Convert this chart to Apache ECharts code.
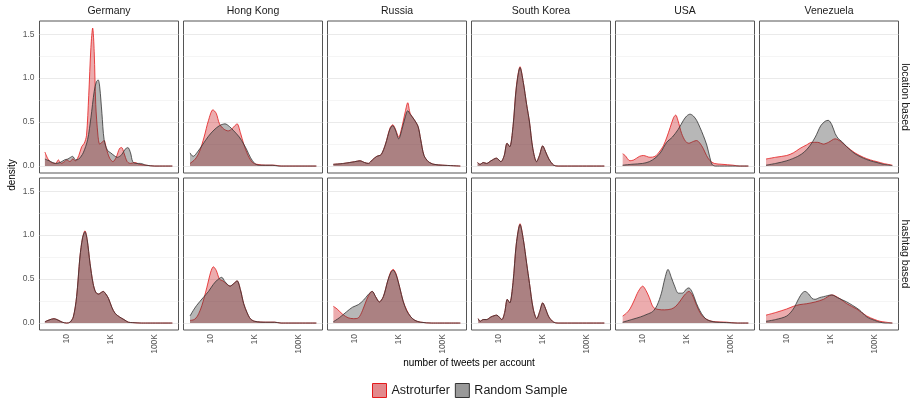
<!DOCTYPE html>
<html><head><meta charset="utf-8">
<script src="https://cdn.jsdelivr.net/npm/echarts@6/dist/echarts.min.js"></script>
<style>html,body{margin:0;padding:0;background:#fff}#c{width:911px;height:402px}</style>
</head><body><div id="c"></div><script>
// ---- categories & ticks ----
const countries = ['Germany', 'Hong Kong', 'Russia', 'South Korea', 'USA', 'Venezuela'];
const rowLabels = ['location based', 'hashtag based'];
const seriesNames = ['Astroturfer', 'Random Sample'];
const xTickValues = [1, 3, 5];            // log10(number of tweets)
const xTickLabels = ['10', '1K', '100K'];
const yTickValues = [0, 0.5, 1, 1.5];
const yGridMajor = [0, 0.5, 1, 1.5];
const yGridMinor = [0.25, 0.75, 1.25];
const xTitle = 'number of tweets per account';
const yTitle = 'density';

// ---- density values: [log10(tweets), density] ----
// location based
const germanyLocAstro = [[0.01,0.16],[0.15,0.08],[0.3,0.04],[0.5,0.03],[0.62,0.07],[0.75,0.03],[0.9,0.05],[1.0,0.07],[1.15,0.05],[1.27,0.08],[1.4,0.06],[1.55,0.12],[1.68,0.22],[1.8,0.26],[1.9,0.35],[2.0,0.8],[2.1,1.35],[2.18,1.57],[2.25,1.3],[2.32,0.7],[2.42,0.35],[2.5,0.25],[2.6,0.27],[2.7,0.29],[2.8,0.2],[2.95,0.09],[3.1,0.05],[3.25,0.1],[3.4,0.2],[3.5,0.21],[3.6,0.15],[3.75,0.05],[3.9,0.03],[4.1,0.04],[4.3,0.02],[4.6,0.01],[5.0,0],[5.8,0]];
const germanyLocRandom = [[0.01,0.08],[0.2,0.06],[0.5,0.03],[0.7,0.04],[0.9,0.07],[1.05,0.08],[1.27,0.11],[1.4,0.07],[1.55,0.08],[1.75,0.15],[1.95,0.3],[2.1,0.55],[2.25,0.85],[2.35,0.96],[2.43,0.98],[2.5,0.9],[2.6,0.6],[2.7,0.3],[2.85,0.18],[3.0,0.15],[3.15,0.12],[3.3,0.1],[3.5,0.13],[3.65,0.19],[3.78,0.21],[3.9,0.15],[4.0,0.05],[4.15,0.03],[4.35,0.03],[4.6,0.01],[5.0,0],[5.8,0]];
const hongkongLocAstro = [[0.06,0.03],[0.3,0.08],[0.5,0.17],[0.7,0.33],[0.9,0.52],[1.1,0.64],[1.25,0.6],[1.4,0.48],[1.6,0.42],[1.8,0.4],[1.95,0.42],[2.1,0.46],[2.2,0.48],[2.35,0.38],[2.5,0.25],[2.7,0.12],[2.9,0.04],[3.1,0.02],[3.5,0.01],[3.9,0.01],[4.2,0],[5.8,0]];
const hongkongLocRandom = [[0.06,0.15],[0.2,0.11],[0.4,0.16],[0.65,0.25],[0.9,0.34],[1.15,0.41],[1.4,0.46],[1.65,0.48],[1.85,0.45],[2.05,0.4],[2.3,0.33],[2.5,0.25],[2.65,0.18],[2.8,0.1],[3.0,0.03],[3.2,0.01],[3.8,0.01],[4.1,0],[5.8,0]];
const russiaLocAstro = [[0.03,0.02],[0.5,0.03],[1.0,0.05],[1.24,0.06],[1.45,0.04],[1.62,0.03],[1.8,0.07],[2.0,0.11],[2.2,0.13],[2.4,0.25],[2.6,0.43],[2.73,0.47],[2.85,0.42],[3.0,0.33],[3.15,0.45],[3.3,0.62],[3.41,0.72],[3.52,0.6],[3.7,0.53],[3.88,0.45],[4.0,0.3],[4.15,0.12],[4.35,0.05],[4.6,0.02],[5.0,0.01],[5.8,0]];
const russiaLocRandom = [[0.03,0.02],[0.5,0.03],[1.0,0.05],[1.24,0.06],[1.45,0.04],[1.62,0.03],[1.8,0.07],[2.0,0.11],[2.2,0.13],[2.4,0.25],[2.6,0.42],[2.73,0.46],[2.85,0.41],[3.0,0.31],[3.15,0.42],[3.3,0.56],[3.41,0.63],[3.52,0.59],[3.7,0.53],[3.88,0.45],[4.0,0.3],[4.15,0.12],[4.35,0.05],[4.6,0.02],[5.0,0.01],[5.8,0]];
const koreaLocAstro = [[0.04,0.04],[0.15,0.02],[0.3,0.04],[0.45,0.03],[0.65,0.06],[0.9,0.09],[1.1,0.05],[1.25,0.12],[1.38,0.26],[1.5,0.22],[1.65,0.45],[1.8,0.9],[1.97,1.13],[2.12,0.95],[2.27,0.7],[2.4,0.5],[2.55,0.2],[2.72,0.05],[2.85,0.12],[3.0,0.23],[3.12,0.17],[3.28,0.08],[3.5,0.01],[3.7,0],[5.8,0]];
const koreaLocRandom = [[0.04,0.04],[0.15,0.02],[0.3,0.04],[0.45,0.03],[0.65,0.06],[0.9,0.09],[1.1,0.05],[1.25,0.12],[1.38,0.26],[1.5,0.22],[1.65,0.45],[1.8,0.89],[1.97,1.12],[2.12,0.95],[2.27,0.7],[2.4,0.5],[2.55,0.2],[2.72,0.05],[2.85,0.12],[3.0,0.23],[3.12,0.17],[3.28,0.08],[3.5,0.01],[3.7,0],[5.8,0]];
const usaLocAstro = [[0.09,0.14],[0.2,0.12],[0.42,0.06],[0.6,0.07],[0.85,0.11],[1.03,0.12],[1.33,0.1],[1.56,0.11],[1.75,0.16],[1.94,0.23],[2.1,0.33],[2.25,0.44],[2.4,0.55],[2.5,0.58],[2.6,0.52],[2.77,0.37],[2.95,0.28],[3.1,0.26],[3.3,0.28],[3.45,0.29],[3.6,0.26],[3.75,0.2],[3.9,0.12],[4.06,0.06],[4.25,0.03],[4.6,0.02],[5.1,0.01],[5.4,0],[5.8,0]];
const usaLocRandom = [[0.09,0.01],[0.5,0.02],[1.0,0.03],[1.3,0.05],[1.56,0.09],[1.8,0.15],[2.09,0.27],[2.35,0.33],[2.62,0.42],[2.85,0.52],[3.0,0.57],[3.15,0.59],[3.3,0.57],[3.45,0.52],[3.6,0.44],[3.75,0.35],[3.91,0.24],[4.05,0.1],[4.15,0.02],[4.3,0],[5.8,0]];
const venezuelaLocAstro = [[0.06,0.08],[0.5,0.1],[1.0,0.12],[1.3,0.15],[1.6,0.2],[1.9,0.24],[2.14,0.27],[2.4,0.27],[2.67,0.25],[2.9,0.27],[3.2,0.31],[3.45,0.28],[3.73,0.22],[4.1,0.15],[4.48,0.1],[4.8,0.07],[5.1,0.05],[5.39,0.03],[5.8,0.01]];
const venezuelaLocRandom = [[0.06,0.01],[0.5,0.03],[1.0,0.06],[1.5,0.11],[1.8,0.16],[2.05,0.23],[2.3,0.33],[2.55,0.46],[2.75,0.51],[2.89,0.52],[3.05,0.47],[3.2,0.37],[3.35,0.31],[3.5,0.28],[3.73,0.22],[4.1,0.14],[4.48,0.09],[4.8,0.06],[5.1,0.04],[5.39,0.02],[5.8,0.005]];
// hashtag based
const germanyTagAstro = [[0.01,0.015],[0.2,0.035],[0.42,0.05],[0.6,0.035],[0.8,0.01],[1.0,0],[1.15,0.01],[1.3,0.07],[1.45,0.3],[1.6,0.75],[1.72,0.97],[1.83,1.05],[1.93,0.95],[2.06,0.68],[2.2,0.45],[2.32,0.35],[2.45,0.33],[2.58,0.35],[2.66,0.36],[2.78,0.33],[2.9,0.28],[3.05,0.18],[3.2,0.11],[3.4,0.07],[3.6,0.04],[3.8,0.01],[4.0,0.005],[4.4,0],[5.8,0]];
const germanyTagRandom = [[0.01,0.015],[0.2,0.035],[0.42,0.05],[0.6,0.035],[0.8,0.01],[1.0,0],[1.15,0.01],[1.3,0.07],[1.45,0.3],[1.6,0.75],[1.72,0.97],[1.83,1.04],[1.93,0.95],[2.06,0.68],[2.2,0.45],[2.32,0.35],[2.45,0.33],[2.58,0.35],[2.66,0.36],[2.78,0.33],[2.9,0.28],[3.05,0.18],[3.2,0.11],[3.4,0.07],[3.6,0.04],[3.8,0.01],[4.0,0.005],[4.4,0],[5.8,0]];
const hongkongTagAstro = [[0.06,0.03],[0.25,0.04],[0.4,0.08],[0.6,0.2],[0.82,0.4],[1.0,0.58],[1.12,0.64],[1.25,0.6],[1.4,0.5],[1.55,0.48],[1.7,0.45],[1.88,0.42],[2.05,0.45],[2.2,0.48],[2.35,0.38],[2.5,0.22],[2.65,0.12],[2.8,0.05],[3.0,0.02],[3.5,0.01],[3.9,0.01],[4.2,0],[5.8,0]];
const hongkongTagRandom = [[0.06,0.08],[0.2,0.14],[0.36,0.2],[0.66,0.29],[0.9,0.36],[1.12,0.44],[1.3,0.49],[1.5,0.52],[1.65,0.47],[1.88,0.42],[2.05,0.45],[2.2,0.48],[2.35,0.38],[2.5,0.22],[2.65,0.12],[2.8,0.05],[3.0,0.02],[3.5,0.01],[3.9,0.01],[4.2,0],[5.8,0]];
const russiaTagAstro = [[0.03,0.19],[0.2,0.16],[0.45,0.1],[0.7,0.06],[0.95,0.05],[1.17,0.06],[1.35,0.14],[1.55,0.27],[1.72,0.35],[1.8,0.36],[1.95,0.3],[2.12,0.24],[2.3,0.3],[2.5,0.48],[2.65,0.59],[2.75,0.61],[2.88,0.56],[3.05,0.4],[3.2,0.25],[3.36,0.15],[3.55,0.07],[3.74,0.03],[4.0,0.01],[4.5,0],[5.8,0]];
const russiaTagRandom = [[0.03,0.015],[0.3,0.06],[0.64,0.13],[0.9,0.18],[1.17,0.21],[1.4,0.26],[1.6,0.32],[1.72,0.35],[1.8,0.36],[1.95,0.3],[2.12,0.24],[2.3,0.3],[2.5,0.48],[2.65,0.58],[2.75,0.6],[2.88,0.55],[3.05,0.4],[3.2,0.25],[3.36,0.14],[3.55,0.07],[3.74,0.03],[4.0,0.01],[4.5,0],[5.8,0]];
const koreaTagAstro = [[0.07,0.05],[0.15,0.02],[0.3,0.04],[0.45,0.04],[0.65,0.07],[0.91,0.09],[1.14,0.04],[1.27,0.12],[1.39,0.27],[1.5,0.23],[1.65,0.46],[1.8,0.9],[1.97,1.13],[2.12,0.95],[2.27,0.68],[2.4,0.45],[2.57,0.16],[2.73,0.05],[2.86,0.13],[3.0,0.23],[3.12,0.17],[3.28,0.07],[3.5,0.01],[3.7,0],[5.8,0]];
const koreaTagRandom = [[0.07,0.05],[0.15,0.02],[0.3,0.04],[0.45,0.04],[0.65,0.07],[0.91,0.09],[1.14,0.04],[1.27,0.12],[1.39,0.27],[1.5,0.23],[1.65,0.46],[1.8,0.9],[1.97,1.12],[2.12,0.95],[2.27,0.68],[2.4,0.45],[2.57,0.16],[2.73,0.05],[2.86,0.13],[3.0,0.23],[3.12,0.17],[3.28,0.07],[3.5,0.01],[3.7,0],[5.8,0]];
const usaTagAstro = [[0.09,0.08],[0.25,0.11],[0.42,0.16],[0.6,0.25],[0.8,0.36],[1.0,0.42],[1.15,0.37],[1.3,0.29],[1.48,0.18],[1.7,0.155],[2.0,0.15],[2.3,0.16],[2.5,0.19],[2.7,0.25],[2.9,0.32],[3.1,0.36],[3.25,0.32],[3.45,0.2],[3.6,0.12],[3.75,0.07],[4.0,0.03],[4.3,0.015],[4.8,0.01],[5.3,0],[5.8,0]];
const usaTagRandom = [[0.09,0.01],[0.5,0.04],[0.9,0.07],[1.2,0.1],[1.45,0.13],[1.65,0.2],[1.85,0.34],[2.0,0.5],[2.15,0.61],[2.3,0.52],[2.45,0.42],[2.62,0.34],[2.8,0.34],[3.0,0.39],[3.1,0.4],[3.25,0.35],[3.45,0.22],[3.6,0.14],[3.75,0.08],[3.91,0.04],[4.2,0.015],[4.8,0.005],[5.3,0],[5.8,0]];
const venezuelaTagAstro = [[0.06,0.09],[0.5,0.12],[1.0,0.16],[1.3,0.19],[1.6,0.21],[1.91,0.22],[2.3,0.24],[2.67,0.27],[3.05,0.32],[3.4,0.28],[3.73,0.22],[4.18,0.16],[4.64,0.08],[5.0,0.04],[5.24,0.02],[5.5,0.01],[5.8,0]];
const venezuelaTagRandom = [[0.06,0.02],[0.5,0.04],[1.0,0.08],[1.3,0.16],[1.55,0.28],[1.7,0.34],[1.83,0.36],[2.0,0.33],[2.15,0.28],[2.29,0.27],[2.5,0.29],[2.67,0.3],[3.05,0.32],[3.3,0.29],[3.73,0.24],[4.0,0.2],[4.3,0.15],[4.64,0.07],[5.0,0.03],[5.24,0.01],[5.5,0],[5.8,0]];

const panelData = [
  [[germanyLocAstro, germanyLocRandom], [hongkongLocAstro, hongkongLocRandom], [russiaLocAstro, russiaLocRandom],
   [koreaLocAstro, koreaLocRandom], [usaLocAstro, usaLocRandom], [venezuelaLocAstro, venezuelaLocRandom]],
  [[germanyTagAstro, germanyTagRandom], [hongkongTagAstro, hongkongTagRandom], [russiaTagAstro, russiaTagRandom],
   [koreaTagAstro, koreaTagRandom], [usaTagAstro, usaTagRandom], [venezuelaTagAstro, venezuelaTagRandom]]
];

// ---- layout & style ----
const FONT = '"Liberation Sans", Arial, Helvetica, sans-serif';
const panelLeft0 = 39.5, panelW = 139, panelGap = 5;
const rowTops = [21, 178], panelH = 152;
const xMin = -0.236, xMax = 6.08, yMin = -0.079, yMax = 1.65;
const astroLine = '#e41a1c', astroFill = 'rgba(200,20,25,0.5)';
const randLine = '#333333', randFill = 'rgba(51,51,51,0.5)';

const grids = [], xAxes = [], yAxes = [], series = [], graphics = [];
for (let r = 0; r < 2; r++) {
  for (let c = 0; c < 6; c++) {
    const i = r * 6 + c;
    const left = panelLeft0 + c * (panelW + panelGap);
    grids.push({left: left, top: rowTops[r], width: panelW, height: panelH, show: true,
      borderColor: '#555', borderWidth: 1, backgroundColor: 'rgba(0,0,0,0)', containLabel: false});
    xAxes.push({gridIndex: i, type: 'value', min: xMin, max: xMax,
      axisLine: {show: false}, axisTick: {show: false}, splitLine: {show: false},
      axisLabel: {show: r === 1, customValues: xTickValues, rotate: 90, margin: 4,
        fontSize: 8.5, color: '#555', fontFamily: FONT,
        formatter: v => xTickLabels[xTickValues.indexOf(Math.round(v))] || ''}});
    yAxes.push({gridIndex: i, type: 'value', min: yMin, max: yMax,
      axisLine: {show: false}, axisTick: {show: false}, splitLine: {show: false},
      axisLabel: {show: c === 0, customValues: yTickValues, margin: 5,
        fontSize: 8.5, color: '#555', fontFamily: FONT, formatter: v => v.toFixed(1)}});
    // grid lines
    series.push({type: 'line', data: [], xAxisIndex: i, yAxisIndex: i, silent: true, z: 1,
      markLine: {silent: true, z: 1, symbol: ['none', 'none'], label: {show: false}, animation: false,
        emphasis: {disabled: true},
        data: yGridMajor.map(v => ({yAxis: v, lineStyle: {color: '#e4e4e4', width: 0.8, type: 'solid'}}))
          .concat(yGridMinor.map(v => ({yAxis: v, lineStyle: {color: '#efefef', width: 0.6, type: 'solid'}})))}});
    const [a, b] = panelData[r][c];
    series.push({type: 'line', name: seriesNames[0], xAxisIndex: i, yAxisIndex: i, data: a,
      smooth: 0.3, symbol: 'none', showSymbol: false, silent: true, z: 2,
      lineStyle: {color: astroLine, width: 0.8}, itemStyle: {color: astroLine},
      areaStyle: {color: astroFill, origin: 0}});
    series.push({type: 'line', name: seriesNames[1], xAxisIndex: i, yAxisIndex: i, data: b,
      smooth: 0.3, symbol: 'none', showSymbol: false, silent: true, z: 3,
      lineStyle: {color: randLine, width: 0.8}, itemStyle: {color: randLine},
      areaStyle: {color: randFill, origin: 0}});
  }
}

countries.forEach((name, c) => {
  graphics.push({type: 'text', x: panelLeft0 + c * (panelW + panelGap) + panelW / 2, y: 11,
    style: {text: name, fill: '#1a1a1a', fontSize: 10.5, fontFamily: FONT, align: 'center', verticalAlign: 'middle'}});
});
rowLabels.forEach((name, r) => {
  graphics.push({type: 'text', x: 905, y: rowTops[r] + panelH / 2, rotation: -Math.PI / 2,
    style: {text: name, fill: '#1a1a1a', fontSize: 10.5, fontFamily: FONT, align: 'center', verticalAlign: 'middle'}});
});
graphics.push({type: 'text', x: 12, y: 175, rotation: Math.PI / 2,
  style: {text: yTitle, fill: '#000', fontSize: 10, fontFamily: FONT, align: 'center', verticalAlign: 'middle'}});
graphics.push({type: 'text', x: 469, y: 363,
  style: {text: xTitle, fill: '#000', fontSize: 10, fontFamily: FONT, align: 'center', verticalAlign: 'middle'}});

const chart = echarts.init(document.getElementById('c'), null, {renderer: 'canvas'});
chart.setOption({
  animation: false,
  backgroundColor: '#fff',
  grid: grids, xAxis: xAxes, yAxis: yAxes, series: series, graphic: graphics,
  legend: {left: 372, top: 383, itemWidth: 14, itemHeight: 14, itemGap: 5, selectedMode: false, padding: 0,
    textStyle: {fontSize: 12.5, color: '#1a1a1a', fontFamily: FONT},
    data: [
      {name: seriesNames[0], icon: 'rect', itemStyle: {color: astroFill, borderColor: astroLine, borderWidth: 1}},
      {name: seriesNames[1], icon: 'rect', itemStyle: {color: randFill, borderColor: randLine, borderWidth: 1}}
    ]}
});
</script></body></html>
